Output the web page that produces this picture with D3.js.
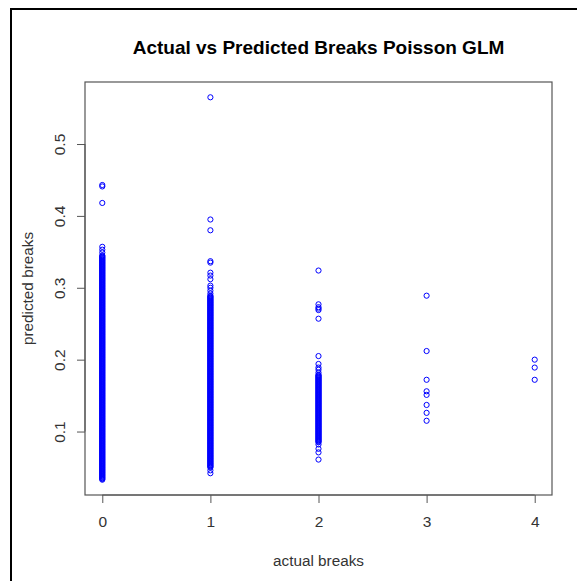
<html>
  <head>
    <meta charset="utf-8">
    <script src="https://d3js.org/d3.v7.min.js"></script>
    <style type="text/css">
      body {
        margin: 0;
        padding: 0;
        background: #ffffff;
        font-family: 'Liberation Sans', Arial, sans-serif;
      }
    </style>
  </head>
  <body>
    <svg id="chart" width="577" height="581"></svg>

    <script>
      /* Data */
      const title = "Actual vs Predicted Breaks Poisson GLM"
      const xLabel = "actual breaks"
      const yLabel = "predicted breaks"
      const actualBreaks = [0, 1, 2, 3, 4]
      const xTicks = [0, 1, 2, 3, 4]
      const yTicks = [0.1, 0.2, 0.3, 0.4, 0.5]

      // predicted values for actual breaks = 0
      const predicted0 = [
        0.443, 0.441, 0.418, 0.357, 0.353, 0.349,
        0.345, 0.344, 0.343, 0.342, 0.341, 0.340, 0.339, 0.338, 0.337, 0.336,
        0.335, 0.334, 0.333, 0.332, 0.331, 0.330, 0.329, 0.328, 0.327, 0.326,
        0.325, 0.324, 0.323, 0.322, 0.321, 0.320, 0.319, 0.318, 0.317, 0.316,
        0.315, 0.314, 0.313, 0.312, 0.311, 0.310, 0.309, 0.308, 0.307, 0.306,
        0.305, 0.304, 0.303, 0.302, 0.301, 0.300, 0.299, 0.298, 0.297, 0.296,
        0.295, 0.294, 0.293, 0.292, 0.291, 0.290, 0.289, 0.288, 0.287, 0.286,
        0.285, 0.284, 0.283, 0.282, 0.281, 0.280, 0.279, 0.278, 0.277, 0.276,
        0.275, 0.274, 0.273, 0.272, 0.271, 0.270, 0.269, 0.268, 0.267, 0.266,
        0.265, 0.264, 0.263, 0.262, 0.261, 0.260, 0.259, 0.258, 0.257, 0.256,
        0.255, 0.254, 0.253, 0.252, 0.251, 0.250, 0.249, 0.248, 0.247, 0.246,
        0.245, 0.244, 0.243, 0.242, 0.241, 0.240, 0.239, 0.238, 0.237, 0.236,
        0.235, 0.234, 0.233, 0.232, 0.231, 0.230, 0.229, 0.228, 0.227, 0.226,
        0.225, 0.224, 0.223, 0.222, 0.221, 0.220, 0.219, 0.218, 0.217, 0.216,
        0.215, 0.214, 0.213, 0.212, 0.211, 0.210, 0.209, 0.208, 0.207, 0.206,
        0.205, 0.204, 0.203, 0.202, 0.201, 0.200, 0.199, 0.198, 0.197, 0.196,
        0.195, 0.194, 0.193, 0.192, 0.191, 0.190, 0.189, 0.188, 0.187, 0.186,
        0.185, 0.184, 0.183, 0.182, 0.181, 0.180, 0.179, 0.178, 0.177, 0.176,
        0.175, 0.174, 0.173, 0.172, 0.171, 0.170, 0.169, 0.168, 0.167, 0.166,
        0.165, 0.164, 0.163, 0.162, 0.161, 0.160, 0.159, 0.158, 0.157, 0.156,
        0.155, 0.154, 0.153, 0.152, 0.151, 0.150, 0.149, 0.148, 0.147, 0.146,
        0.145, 0.144, 0.143, 0.142, 0.141, 0.140, 0.139, 0.138, 0.137, 0.136,
        0.135, 0.134, 0.133, 0.132, 0.131, 0.130, 0.129, 0.128, 0.127, 0.126,
        0.125, 0.124, 0.123, 0.122, 0.121, 0.120, 0.119, 0.118, 0.117, 0.116,
        0.115, 0.114, 0.113, 0.112, 0.111, 0.110, 0.109, 0.108, 0.107, 0.106,
        0.105, 0.104, 0.103, 0.102, 0.101, 0.100, 0.099, 0.098, 0.097, 0.096,
        0.095, 0.094, 0.093, 0.092, 0.091, 0.090, 0.089, 0.088, 0.087, 0.086,
        0.085, 0.084, 0.083, 0.082, 0.081, 0.080, 0.079, 0.078, 0.077, 0.076,
        0.075, 0.074, 0.073, 0.072, 0.071, 0.070, 0.069, 0.068, 0.067, 0.066,
        0.065, 0.064, 0.063, 0.062, 0.061, 0.060, 0.059, 0.058, 0.057, 0.056,
        0.055, 0.054, 0.053, 0.052, 0.051, 0.050, 0.049, 0.048, 0.047, 0.046,
        0.045, 0.044, 0.043, 0.042, 0.041, 0.040, 0.039, 0.038, 0.037, 0.036,
        0.035, 0.034, 0.033
      ]

      // predicted values for actual breaks = 1
      const predicted1 = [
        0.565, 0.395, 0.380, 0.337, 0.335, 0.321, 0.317, 0.312, 0.303, 0.300,
        0.296, 0.292,
        0.289, 0.288, 0.287, 0.286, 0.285, 0.284, 0.283, 0.282, 0.281, 0.280,
        0.279, 0.278, 0.277, 0.276, 0.275, 0.274, 0.273, 0.272, 0.271, 0.270,
        0.269, 0.268, 0.267, 0.266, 0.265, 0.264, 0.263, 0.262, 0.261, 0.260,
        0.259, 0.258, 0.257, 0.256, 0.255, 0.254, 0.253, 0.252, 0.251, 0.250,
        0.249, 0.248, 0.247, 0.246, 0.245, 0.244, 0.243, 0.242, 0.241, 0.240,
        0.239, 0.238, 0.237, 0.236, 0.235, 0.234, 0.233, 0.232, 0.231, 0.230,
        0.229, 0.228, 0.227, 0.226, 0.225, 0.224, 0.223, 0.222, 0.221, 0.220,
        0.219, 0.218, 0.217, 0.216, 0.215, 0.214, 0.213, 0.212, 0.211, 0.210,
        0.209, 0.208, 0.207, 0.206, 0.205, 0.204, 0.203, 0.202, 0.201, 0.200,
        0.199, 0.198, 0.197, 0.196, 0.195, 0.194, 0.193, 0.192, 0.191, 0.190,
        0.189, 0.188, 0.187, 0.186, 0.185, 0.184, 0.183, 0.182, 0.181, 0.180,
        0.179, 0.178, 0.177, 0.176, 0.175, 0.174, 0.173, 0.172, 0.171, 0.170,
        0.169, 0.168, 0.167, 0.166, 0.165, 0.164, 0.163, 0.162, 0.161, 0.160,
        0.159, 0.158, 0.157, 0.156, 0.155, 0.154, 0.153, 0.152, 0.151, 0.150,
        0.149, 0.148, 0.147, 0.146, 0.145, 0.144, 0.143, 0.142, 0.141, 0.140,
        0.139, 0.138, 0.137, 0.136, 0.135, 0.134, 0.133, 0.132, 0.131, 0.130,
        0.129, 0.128, 0.127, 0.126, 0.125, 0.124, 0.123, 0.122, 0.121, 0.120,
        0.119, 0.118, 0.117, 0.116, 0.115, 0.114, 0.113, 0.112, 0.111, 0.110,
        0.109, 0.108, 0.107, 0.106, 0.105, 0.104, 0.103, 0.102, 0.101, 0.100,
        0.099, 0.098, 0.097, 0.096, 0.095, 0.094, 0.093, 0.092, 0.091, 0.090,
        0.089, 0.088, 0.087, 0.086, 0.085, 0.084, 0.083, 0.082, 0.081, 0.080,
        0.079, 0.078, 0.077, 0.076, 0.075, 0.074, 0.073, 0.072, 0.071, 0.070,
        0.069, 0.068, 0.067, 0.066, 0.065, 0.064, 0.063, 0.062, 0.061, 0.060,
        0.059, 0.058, 0.057, 0.056, 0.055, 0.054, 0.053, 0.052, 0.051, 0.050,
        0.046, 0.042
      ]

      // predicted values for actual breaks = 2
      const predicted2 = [
        0.324, 0.277, 0.273, 0.271, 0.269, 0.257, 0.205, 0.194, 0.189, 0.186,
        0.182,
        0.179, 0.178, 0.177, 0.176, 0.175, 0.174, 0.173, 0.172, 0.171, 0.170,
        0.169, 0.168, 0.167, 0.166, 0.165, 0.164, 0.163, 0.162, 0.161, 0.160,
        0.159, 0.158, 0.157, 0.156, 0.155, 0.154, 0.153, 0.152, 0.151, 0.150,
        0.149, 0.148, 0.147, 0.146, 0.145, 0.144, 0.143, 0.142, 0.141, 0.140,
        0.139, 0.138, 0.137, 0.136, 0.135, 0.134, 0.133, 0.132, 0.131, 0.130,
        0.129, 0.128, 0.127, 0.126, 0.125, 0.124, 0.123, 0.122, 0.121, 0.120,
        0.119, 0.118, 0.117, 0.116, 0.115, 0.114, 0.113, 0.112, 0.111, 0.110,
        0.109, 0.108, 0.107, 0.106, 0.105, 0.104, 0.103, 0.102, 0.101, 0.100,
        0.099, 0.098, 0.097, 0.096, 0.095, 0.094, 0.093, 0.092, 0.091, 0.090,
        0.089, 0.088, 0.087, 0.086, 0.085,
        0.082, 0.076, 0.071, 0.061
      ]

      // predicted values for actual breaks = 3
      const predicted3 = [0.289, 0.212, 0.172, 0.156, 0.151, 0.137, 0.126, 0.115]

      // predicted values for actual breaks = 4
      const predicted4 = [0.200, 0.189, 0.172]

      const predictedByActual = [predicted0, predicted1, predicted2, predicted3, predicted4]

      const points = []
      actualBreaks.forEach((a, i) => {
        predictedByActual[i].forEach(p => points.push({ actual: a, predicted: p }))
      })

      /* Rendering */
      const svg = d3.select("#chart")
      const plot = { left: 85, right: 552, top: 82, bottom: 495 }
      const fontFamily = "'Liberation Sans', Arial, sans-serif"

      // R style range: data range padded by 4% on each side
      const xExt = d3.extent(points, d => d.actual)
      const yExt = d3.extent(points, d => d.predicted)
      const xPad = (xExt[1] - xExt[0]) * 0.04
      const yPad = (yExt[1] - yExt[0]) * 0.04

      const x = d3.scaleLinear()
        .domain([xExt[0] - xPad, xExt[1] + xPad])
        .range([plot.left, plot.right])

      const y = d3.scaleLinear()
        .domain([yExt[0] - yPad, yExt[1] + yPad])
        .range([plot.bottom, plot.top])

      // outer frame (only left and top edges show)
      svg.append("line")
        .attr("x1", 11).attr("x2", 11)
        .attr("y1", 8).attr("y2", 581)
        .attr("stroke", "#000").attr("stroke-width", 2)
      svg.append("line")
        .attr("x1", 10).attr("x2", 577)
        .attr("y1", 9).attr("y2", 9)
        .attr("stroke", "#000").attr("stroke-width", 2)

      svg.append("text")
        .attr("x", (plot.left + plot.right) / 2)
        .attr("y", 54)
        .attr("text-anchor", "middle")
        .style("font-size", "19px")
        .style("font-weight", "bold")
        .style("fill", "#000")
        .text(title)

      const xAxis = svg.append("g")
        .attr("transform", `translate(0,${plot.bottom})`)
        .call(d3.axisBottom(x).tickValues(xTicks).tickSize(8).tickPadding(13).tickFormat(d3.format("d")))

      const yAxis = svg.append("g")
        .attr("transform", `translate(${plot.left},0)`)
        .call(d3.axisLeft(y).tickValues(yTicks).tickSize(8).tickPadding(0).tickFormat(d3.format(".1f")))

      // R draws the axis line only between the outer ticks
      xAxis.select(".domain").remove()
      yAxis.select(".domain").remove()
      xAxis.append("line")
        .attr("x1", x(xTicks[0])).attr("x2", x(xTicks[xTicks.length - 1]))
        .attr("stroke", "#555")
      yAxis.append("line")
        .attr("y1", y(yTicks[0])).attr("y2", y(yTicks[yTicks.length - 1]))
        .attr("stroke", "#555")

      xAxis.selectAll(".tick line").attr("stroke", "#555")
      yAxis.selectAll(".tick line").attr("stroke", "#555")

      xAxis.selectAll(".tick text")
        .style("font-size", "15.5px")
        .style("font-family", fontFamily)
        .style("fill", "#333")

      yAxis.selectAll(".tick text")
        .style("font-size", "15.5px")
        .style("font-family", fontFamily)
        .style("fill", "#333")
        .attr("text-anchor", "middle")
        .attr("dy", "0")
        .attr("x", 0)
        .attr("transform", "translate(-25,0) rotate(-90)")
        .attr("y", 5)

      // plot box
      svg.append("rect")
        .attr("x", plot.left)
        .attr("y", plot.top)
        .attr("width", plot.right - plot.left)
        .attr("height", plot.bottom - plot.top)
        .attr("fill", "none")
        .attr("stroke", "#555")
        .attr("stroke-width", 1.2)

      svg.append("text")
        .attr("x", (plot.left + plot.right) / 2)
        .attr("y", 566)
        .attr("text-anchor", "middle")
        .style("font-size", "15.3px")
        .style("fill", "#333")
        .text(xLabel)

      svg.append("text")
        .attr("transform", `translate(33,${(plot.top + plot.bottom) / 2}) rotate(-90)`)
        .attr("text-anchor", "middle")
        .style("font-size", "15.3px")
        .style("fill", "#333")
        .text(yLabel)

      svg.append("g")
        .selectAll("circle")
        .data(points)
        .join("circle")
        .attr("cx", d => x(d.actual))
        .attr("cy", d => y(d.predicted))
        .attr("r", 2.6)
        .attr("fill", "none")
        .attr("stroke", "#0000ff")
        .attr("stroke-width", 1)
    </script>
  </body>
</html>
